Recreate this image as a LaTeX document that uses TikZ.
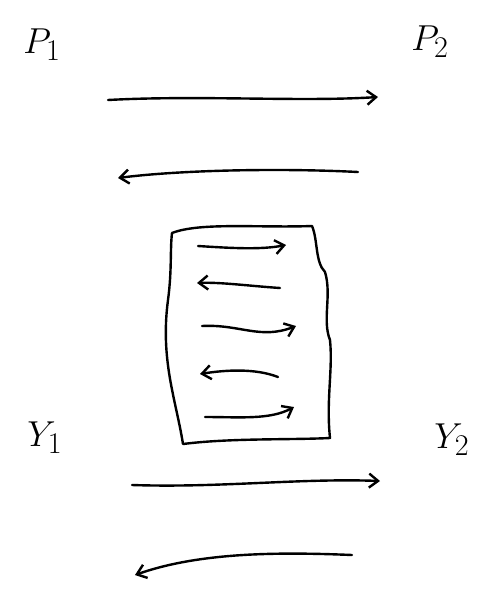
\documentclass[tikz,border=0pt]{standalone}
\usetikzlibrary{arrows.meta}
\newcommand{\biglbl}[1]{\scalebox{1.45}{\fontsize{24.88}{28}\selectfont$#1$}}
\begin{document}
\begin{tikzpicture}[x=1pt,y=-1pt,
  ink/.style={line width=2.4pt,line cap=round,line join=round},
  arr/.style={ink,-{Straight Barb[length=9pt,width=14pt,line width=2.4pt]}},
  lbl/.style={inner sep=0pt}]
\useasboundingbox (0,0) rectangle (482,603);
% labels
\node[lbl] (p1) at (42,45) {\biglbl{P_1}};
\node[lbl] (p2) at (430,42) {\biglbl{P_2}};
\node[lbl] (y1) at (45,438) {\biglbl{Y_1}};
\node[lbl] (y2) at (452,440) {\biglbl{Y_2}};
% outer arrows
\coordinate (a1s) at (108,100); \coordinate (a1e) at (378,97);
\coordinate (a2s) at (358,172); \coordinate (a2e) at (118,178);
\coordinate (a3s) at (132,485); \coordinate (a3e) at (380,481);
\coordinate (a4s) at (352,555); \coordinate (a4e) at (135,575);
\draw[arr] (a1s) .. controls (200,95) and (300,102) .. (a1e);
\draw[arr] (a2s) .. controls (280,168) and (180,170) .. (a2e);
\draw[arr] (a3s) .. controls (220,488) and (300,478) .. (a3e);
\draw[arr] (a4s) .. controls (280,552) and (200,552) .. (a4e);
% box
\draw[ink] (172,233) .. controls (200,222) and (260,228) .. (312,226)
  .. controls (318,240) and (315,262) .. (325,272)
  .. controls (332,295) and (322,320) .. (330,340)
  .. controls (333,370) and (326,400) .. (330,438)
  .. controls (290,440) and (230,438) .. (183,444)
  .. controls (176,400) and (160,360) .. (168,300)
  .. controls (172,270) and (170,250) .. (172,233) -- cycle;
% inner arrows
\coordinate (b1s) at (198,246); \coordinate (b1e) at (286,245);
\coordinate (b2s) at (280,288); \coordinate (b2e) at (197,283);
\coordinate (b3s) at (202,326); \coordinate (b3e) at (296,326);
\coordinate (b4s) at (278,377); \coordinate (b4e) at (200,374);
\coordinate (b5s) at (205,417); \coordinate (b5e) at (294,407);
\draw[arr] (b1s) .. controls (230,248) and (260,250) .. (b1e);
\draw[arr] (b2s) .. controls (250,286) and (220,282) .. (b2e);
\draw[arr] (b3s) .. controls (240,324) and (260,340) .. (b3e);
\draw[arr] (b4s) .. controls (255,368) and (225,370) .. (b4e);
\draw[arr] (b5s) .. controls (240,417) and (270,420) .. (b5e);
\end{tikzpicture}
\end{document}
